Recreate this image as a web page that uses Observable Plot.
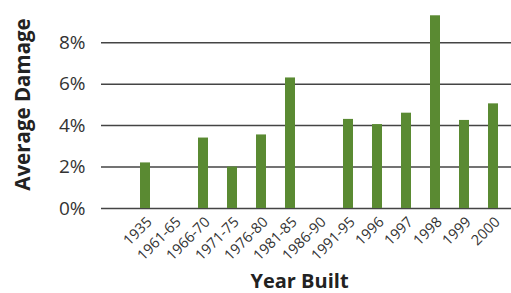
<!DOCTYPE html>
<html>
<head>
<meta charset="utf-8">
<script src="https://cdn.jsdelivr.net/npm/d3@7"></script>
<script src="https://cdn.jsdelivr.net/npm/@observablehq/plot@0.6"></script>
<style>
  html, body { margin: 0; padding: 0; background: #fff; }
  svg { display: block; }
</style>
</head>
<body>
<div id="chart"></div>
<script>
const categories = ["1935","1961-65","1966-70","1971-75","1976-80","1981-85","1986-90","1991-95","1996","1997","1998","1999","2000"];
const damage = [2.2, null, 3.4, 2.0, 3.55, 6.3, null, 4.3, 4.05, 4.6, 9.3, 4.25, 5.05];
const yTicks = [0, 2, 4, 6, 8];
const yLabel = "Average Damage";
const xLabel = "Year Built";

const data = categories.map((c, i) => ({cat: c, v: damage[i]})).filter(d => d.v != null);

const chart = Plot.plot({
  width: 511,
  height: 293,
  marginLeft: 101,
  marginRight: 0,
  marginTop: 7,
  marginBottom: 85,
  style: {fontFamily: "'Open Sans', sans-serif", color: "#333"},
  x: {domain: categories, range: [126.2, 511.8], paddingInner: 0.66, paddingOuter: 0.33},
  y: {domain: [0, 9.7]},
  marks: [
    Plot.ruleY(yTicks, {stroke: "#444", strokeWidth: 1.5}),
    Plot.barY(data, {x: "cat", y: "v", fill: "#5a8a32"}),
    Plot.ruleX([0], {frameAnchor: "left", stroke: "#444", strokeWidth: 2}),
    Plot.axisY({ticks: yTicks, tickFormat: d => d + "%", tickSize: 0, tickPadding: 16, fontSize: 19, label: null, fill: "#333"}),
    Plot.axisX({tickSize: 0, tickRotate: -45, fontSize: 14.5, tickPadding: 11, dx: 4, label: null, fill: "#333"}),
    Plot.text([yLabel], {frameAnchor: "left", textAnchor: "middle", lineAnchor: "middle", rotate: -90, dx: -78.5, dy: -3.5, fontSize: 20.5, fontWeight: "bold", fill: "#222"}),
    Plot.text([xLabel], {frameAnchor: "bottom", textAnchor: "middle", lineAnchor: "middle", dx: -7, dy: 73, fontSize: 20, fontWeight: "bold", fill: "#222"})
  ]
});
document.getElementById("chart").appendChild(chart);
</script>
</body>
</html>
